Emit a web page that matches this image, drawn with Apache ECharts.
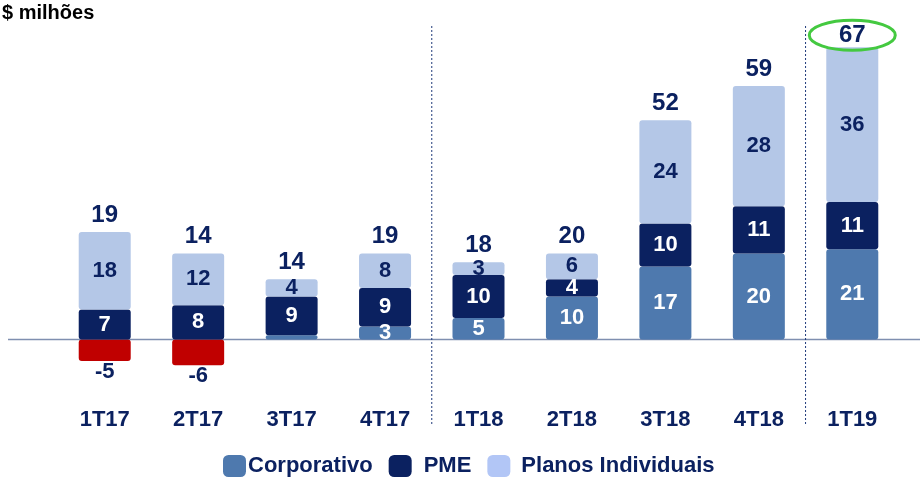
<!DOCTYPE html>
<html lang="pt">
<head>
    <meta charset="UTF-8">
    <title>Resultado por segmento</title>
    <style>
        html, body { margin: 0; padding: 0; background: #fff; }
        #main { width: 920px; height: 479px; }
    </style>
</head>
<body>
<div id="main"></div>
<script src="https://cdn.jsdelivr.net/npm/echarts@6/dist/echarts.min.js"></script>
<script>
    // dados (R$ milhões)
    var categorias = ['1T17', '2T17', '3T17', '4T17', '1T18', '2T18', '3T18', '4T18', '1T19'];
    var corporativo = [-5, -6, 1, 3, 5, 10, 17, 20, 21];
    var pme = [7, 8, 9, 9, 10, 4, 10, 11, 11];
    var planos = [18, 12, 4, 8, 3, 6, 24, 28, 36];
    var totais = [19, 14, 14, 19, 18, 20, 52, 59, 67];

    var navy = '#0b2160';
    var fonte = 'Arial, "Liberation Sans", sans-serif';

    // topo de cada pilha positiva, para posicionar o total
    var topos = categorias.map(function (c, i) {
        return [i, Math.max(corporativo[i], 0) + pme[i] + planos[i]];
    });
    var ult = topos.length - 1;

    var rotulo = function (cor) {
        return {
            show: true,
            color: cor,
            fontFamily: fonte,
            fontWeight: 'bold',
            fontSize: 22,
            formatter: function (p) {
                return (p.value >= 0 && p.value < 2) ? '' : p.value;
            }
        };
    };

    var myChart = echarts.init(document.getElementById('main'));
    var option = {
        animation: false,
        textStyle: { fontFamily: fonte },
        title: {
            text: '$ milhões',
            left: -3, top: -2,
            textStyle: { fontSize: 20, fontWeight: 'bold', color: '#000', fontFamily: fonte }
        },
        legend: {
            top: 450, left: 218,
            icon: 'roundRect',
            itemWidth: 23, itemHeight: 22, itemGap: 16,
            textStyle: { fontSize: 22, fontWeight: 'bold', color: navy, fontFamily: fonte },
            data: [
                { name: 'Corporativo', textStyle: { padding: [0, 0, 0, -3] } },
                { name: 'PME', textStyle: { padding: [0, 17, 0, 7] } },
                { name: 'Planos Individuais', itemStyle: { color: '#b2c6f6' }, textStyle: { padding: [0, 0, 0, 6] } }
            ]
        },
        grid: { left: 58, right: 21, top: 30, bottom: 75 },
        xAxis: {
            type: 'category',
            data: categorias,
            axisLine: { show: false, onZero: false },
            axisTick: { show: false },
            axisLabel: { color: navy, fontSize: 22, fontWeight: 'bold', margin: 5, fontFamily: fonte }
        },
        yAxis: {
            type: 'value',
            min: -15, max: 72,
            show: false
        },
        series: [
            {
                name: 'Corporativo',
                type: 'bar',
                stack: 'total',
                barWidth: 52,
                itemStyle: { color: '#4e79ae', borderRadius: 3 },
                label: rotulo('#fff'),
                data: corporativo.map(function (v) {
                    if (v < 0) {
                        return {
                            value: v,
                            itemStyle: { color: '#c00000' },
                            label: { position: 'bottom', distance: 0, color: navy }
                        };
                    }
                    return v;
                })
            },
            {
                name: 'PME',
                type: 'bar',
                stack: 'total',
                itemStyle: { color: navy, borderRadius: 3 },
                label: rotulo('#fff'),
                data: pme
            },
            {
                name: 'Planos Individuais',
                type: 'bar',
                stack: 'total',
                itemStyle: { color: '#b4c7e7', borderRadius: 3 },
                label: rotulo(navy),
                data: planos
            },
            {
                name: 'total',
                type: 'scatter',
                symbolSize: 0,
                silent: true,
                itemStyle: { opacity: 1 },
                label: {
                    show: true,
                    position: 'top',
                    distance: 5,
                    color: navy,
                    opacity: 1,
                    fontFamily: fonte,
                    fontWeight: 'bold',
                    fontSize: 24,
                    formatter: function (p) { return totais[p.dataIndex]; }
                },
                data: topos.map(function (t, i) {
                    return i === ult ? { value: t, label: { distance: 0 } } : t;
                })
            }
        ]
    };
    myChart.setOption(option);

    // linha do zero, separadores pontilhados e destaque do último trimestre
    var y0 = myChart.convertToPixel({ yAxisIndex: 0 }, 0);
    var xSep = function (a, b) {
        return (myChart.convertToPixel({ xAxisIndex: 0 }, categorias[a]) +
                myChart.convertToPixel({ xAxisIndex: 0 }, categorias[b])) / 2;
    };
    var pUlt = myChart.convertToPixel({ seriesIndex: 3 }, topos[ult]);
    var sepStyle = { stroke: '#1f3a7a', lineWidth: 1, lineDash: [2, 2] };

    myChart.setOption({
        graphic: [
            {
                type: 'line', z: 0,
                shape: { x1: 8, y1: y0, x2: 920, y2: y0 },
                style: { stroke: '#7f8fb0', lineWidth: 1.5 }
            },
            {
                type: 'line',
                shape: { x1: xSep(3, 4), y1: 26, x2: xSep(3, 4), y2: 425 },
                style: sepStyle
            },
            {
                type: 'line',
                shape: { x1: xSep(7, 8), y1: 26, x2: xSep(7, 8), y2: 425 },
                style: sepStyle
            },
            {
                type: 'ellipse', z: 100,
                shape: { cx: pUlt[0], cy: pUlt[1] - 12, rx: 43, ry: 15 },
                style: { fill: 'none', stroke: '#44c940', lineWidth: 3 }
            }
        ]
    });
</script>
</body>
</html>
